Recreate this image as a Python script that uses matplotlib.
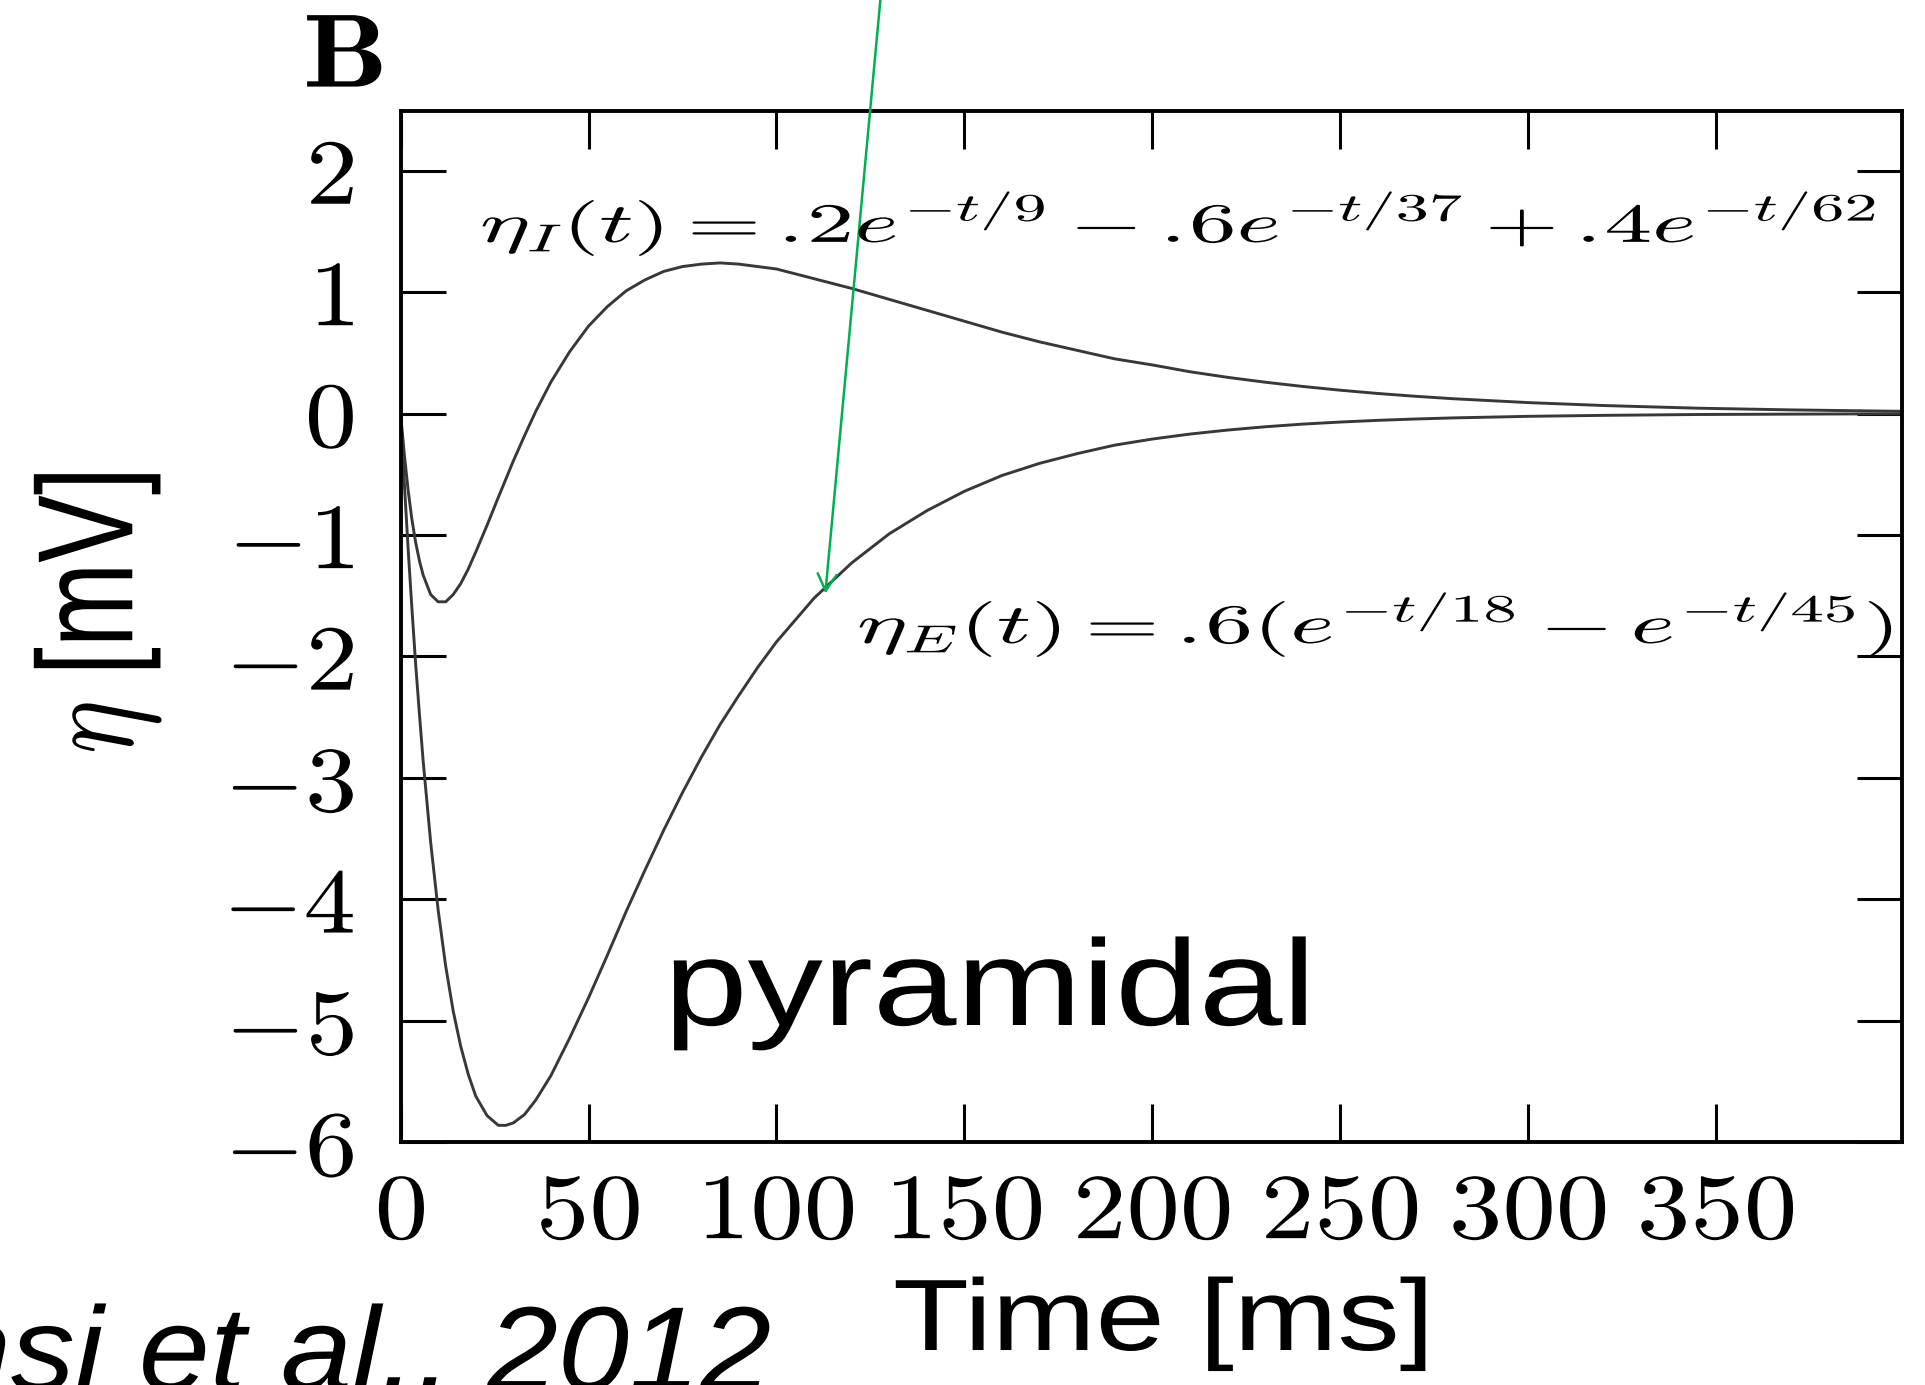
import matplotlib
matplotlib.use("Agg")
import matplotlib.pyplot as plt
import matplotlib.patheffects as pe
from matplotlib.transforms import Affine2D
from matplotlib.ticker import FuncFormatter

# kernels (time in ms, eta in mV)
time_ms = [0, 1, 2, 3, 4, 5, 6, 8, 10, 12, 14, 16, 18, 20, 23, 26, 28, 30, 33, 36,
           40, 45, 50, 55, 60, 65, 70, 75, 80, 85, 90, 95, 100, 110, 120, 130, 140,
           150, 160, 170, 180, 190, 200, 210, 220, 230, 240, 250, 260, 270, 280,
           300, 320, 345, 370, 400]
eta_I = [0, -0.34, -0.63, -0.87, -1.06, -1.21, -1.33, -1.49, -1.55, -1.55,
         -1.49, -1.40, -1.28, -1.14, -0.92, -0.69, -0.54, -0.39, -0.18, 0.02,
         0.26, 0.51, 0.72, 0.88, 1.01, 1.10, 1.17, 1.21, 1.23, 1.24,
         1.23, 1.21, 1.19, 1.11, 1.03, 0.94, 0.85, 0.76, 0.67, 0.59,
         0.52, 0.45, 0.40, 0.344, 0.298, 0.258, 0.223, 0.192, 0.165, 0.142, 0.122,
         0.090, 0.066, 0.044, 0.030, 0.018]
eta_E = [0, -0.58, -1.11, -1.60, -2.06, -2.47, -2.86, -3.53, -4.09, -4.55,
         -4.92, -5.21, -5.44, -5.62, -5.78, -5.86, -5.86, -5.84, -5.77, -5.65,
         -5.45, -5.14, -4.81, -4.46, -4.10, -3.76, -3.43, -3.12, -2.83, -2.56,
         -2.32, -2.09, -1.88, -1.52, -1.23, -0.99, -0.80, -0.64, -0.51, -0.41,
         -0.33, -0.26, -0.21, -0.169, -0.136, -0.109, -0.087, -0.070, -0.056,
         -0.045, -0.036, -0.023, -0.015, -0.008, -0.005, -0.002]

x_ticks = [0, 50, 100, 150, 200, 250, 300, 350]
y_ticks = [-6, -5, -4, -3, -2, -1, 0, 1, 2]

eq_I = r"$\eta_I(t) = .\!2e^{-t/9} - .\!6e^{-t/37} + .\!4e^{-t/62}$"
eq_E = r"$\eta_E(t) = .\!6(e^{-t/18} - e^{-t/45})$"

plt.rcParams["font.family"] = ["Liberation Sans", "DejaVu Sans"]
plt.rcParams["mathtext.fontset"] = "cm"


class Stretch(pe.AbstractPathEffect):
    # the slide picture is stretched sideways, so widen the glyphs
    def __init__(self, sx=1.0, sy=1.0, about="left"):
        super().__init__()
        self.sx = sx
        self.sy = sy
        self.about = about

    def draw_path(self, renderer, gc, tpath, affine, rgbFace=None):
        ext = tpath.get_extents()
        if self.about == "center":
            cx = 0.5 * (ext.x0 + ext.x1)
        elif self.about == "right":
            cx = ext.x1
        else:
            cx = 0.0
        pre = Affine2D().translate(-cx, 0).scale(self.sx, self.sy).translate(cx, 0)
        renderer.draw_path(gc, tpath, pre + affine, rgbFace)


def fit_width(txt, width_px, about="left"):
    r = fig.canvas.get_renderer()
    w = txt.get_window_extent(renderer=r).width
    txt.set_path_effects([Stretch(width_px / w, 1.0, about)])


fig = plt.figure(figsize=(19.25, 13.85), dpi=100)
ax = fig.add_axes([0.2081, 0.1752, 0.7797, 0.7446])

ax.plot(time_ms, eta_I, color="0.22", lw=2.1)
ax.plot(time_ms, eta_E, color="0.22", lw=2.1)

ax.set_xlim(0, 399.3)
ax.set_ylim(-6, 2.49)
ax.set_xticks(x_ticks)
ax.set_yticks(y_ticks)
fmt = FuncFormatter(lambda v, pos: r"$%d$" % v)
ax.xaxis.set_major_formatter(fmt)
ax.yaxis.set_major_formatter(fmt)
ax.tick_params(direction="in", top=True, right=True, width=2.2, labelsize=67)
ax.tick_params(axis="x", length=27.5, pad=21)
ax.tick_params(axis="y", length=32.5, pad=33)
for s in ax.spines.values():
    s.set_linewidth(2.8)
plt.setp(ax.get_xticklabels(), path_effects=[Stretch(1.15, 1.0, "center")])
plt.setp(ax.get_yticklabels(), path_effects=[Stretch(1.12, 1.0, "right")])

# panel letter
fig.text(303 / 1925, 1 - 87 / 1385, r"$\mathbf{B}$", fontsize=75,
         ha="left", va="baseline", path_effects=[Stretch(1.15)])

t1 = fig.text(480 / 1925, 1 - 242 / 1385, eq_I, fontsize=40, ha="left", va="baseline")
t2 = fig.text(857 / 1925, 1 - 643 / 1385, eq_E, fontsize=40, ha="left", va="baseline")
t3 = fig.text(664 / 1925, 1 - 1025 / 1385, "pyramidal", fontsize=88,
              ha="left", va="baseline")
t4 = fig.text(893 / 1925, 1 - 1350 / 1385, "Time [ms]", fontsize=73,
              ha="left", va="baseline")
fit_width(t1, 1398)
fit_width(t2, 1038)
fit_width(t3, 652)
fit_width(t4, 541)

fig.text(133 / 1925, 1 - 613 / 1385, r"$\eta$ [mV]", fontsize=73, rotation=90,
         rotation_mode="anchor", ha="center", va="baseline",
         path_effects=[Stretch(1.0, 1.34)])

fig.text(772 / 1925, 1 - 1390 / 1385, "Mensi et al., 2012", fontsize=86,
         style="italic", ha="right", va="baseline",
         path_effects=[Stretch(1.07, 1.0, "right")])

# green pointer onto the excitatory kernel
ax.annotate("", xy=(113, -1.48), xycoords="data",
            xytext=(881 / 1925, 1.005), textcoords="figure fraction",
            arrowprops=dict(arrowstyle="->,head_length=0.6,head_width=0.34",
                            color="#00b050", lw=1.8, shrinkA=0, shrinkB=0,
                            mutation_scale=20),
            annotation_clip=False)

fig.savefig("out.png", dpi=100)
